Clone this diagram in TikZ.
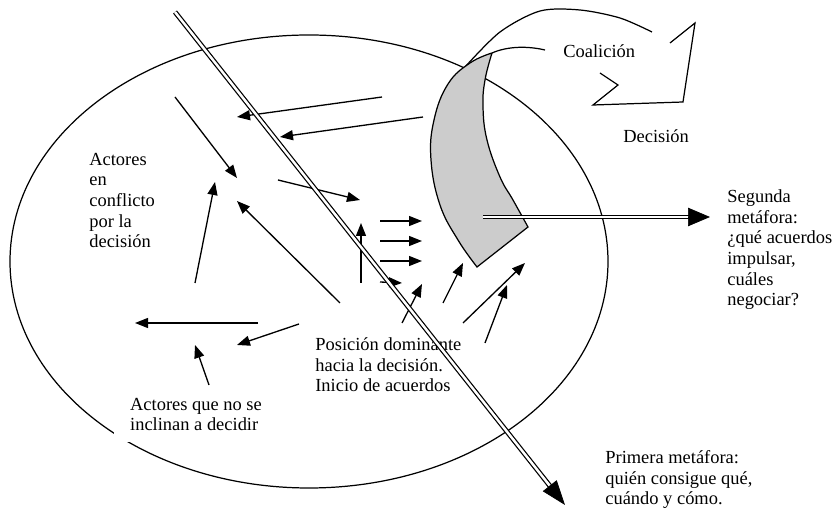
\documentclass[tikz,border=0pt]{standalone}
\usepackage{fontspec}
\setmainfont{Liberation Serif}
\usetikzlibrary{arrows.meta,calc}
\begin{document}
\begin{tikzpicture}[x=0.02cm,y=-0.02cm,
	txt/.style={align=left,inner sep=0pt,anchor=base west,font=\fontsize{10.5}{11.8}\selectfont},
	arr/.style={line width=0.75pt,-{Triangle[length=7.4pt,width=5.7pt]}},
	dbl/.style={double,line width=0.7pt,double distance=1.4pt},
	bighead/.style={line width=0.4pt,-{Triangle[length=14pt,width=10pt]}},
	midhead/.style={line width=0.4pt,-{Triangle[length=12.5pt,width=10.5pt]}}]
	\useasboundingbox (0,0) rectangle (833,509);
	\draw[line width=0.7pt] (309,261.5) ellipse [x radius=299, y radius=226.5];
	\node[txt] (conflicto) at (89,248) {Actores\\en\\conflicto\\por la\\decisión};
	\node[txt] (coalicion) at (563,58) {Coalición};
	\node[txt] (decision) at (623,143) {Decisión};
	\node[txt] (segunda) at (727,306) {Segunda\\metáfora:\\¿qué acuerdos\\impulsar,\\cuáles\\negociar?};
	\node[txt] (posicion) at (315,392) {Posición dominante\\hacia la decisión.\\Inicio de acuerdos};
	\node[txt,fill=white,inner xsep=9pt,inner ysep=6pt] (noinclinan) at (114,431) {Actores que no se\\inclinan a decidir};
	\node[txt] (primera) at (605,505) {Primera metáfora:\\quién consigue qué,\\cuándo y cómo.};
	\draw[line width=0.7pt] plot[smooth] coordinates {(465,67) (500,32) (540,11) (580,10) (620,18) (652,32)};
	\draw[line width=0.7pt] (670,43) -- (695,23) -- (683,102) -- (593,105) -- (618,85) -- (600,73);
	\draw[line width=0.7pt] (492,53) .. controls (508,46) and (528,46) .. (545,50);
	\filldraw[fill=black!20,line width=0.7pt] plot[smooth,tension=0.7] coordinates {(492,53) (470,63) (448,84) (434,120) (431,160) (440,205) (458,240) (477,267)}
		-- (528,227) -- plot[smooth,tension=0.7] coordinates {(528,227) (513,200) (500,177) (487,140) (483,107) (485,80) (492,53)} -- cycle;
	\foreach \i/\p/\q in {1/{382,97}/{237,117}, 2/{423,117}/{280,137}, 3/{175,97}/{237,178},
		4/{278,180}/{360,200}, 5/{195,283}/{215,182}, 6/{340,303}/{237,201}, 7/{361,283}/{361,223},
		8/{380,221}/{422,221}, 9/{380,241}/{422,241}, 10/{380,261}/{422,261}, 11/{380,282}/{402,283},
		12/{402,323}/{422,284}, 13/{443,303}/{463,263}, 14/{463,323}/{525,263}, 15/{485,343}/{507,285},
		16/{258,323}/{135,323}, 17/{299,324}/{237,345}, 18/{209,385}/{195,345}}
	{
		\coordinate (s\i) at (\p);
		\coordinate (e\i) at (\q);
		\draw[arr] (s\i) -- (e\i);
	}
	\coordinate (m1) at (175,12);
	\coordinate (m2) at (565,505);
	\draw[dbl] (m1) -- ($(m2)!13pt!(m1)$);
	\draw[bighead] ($(m2)!14pt!(m1)$) -- (m2);
	\coordinate (n1) at (483,217);
	\coordinate (n2) at (710,217);
	\draw[dbl] (n1) -- ($(n2)!11.5pt!(n1)$);
	\draw[midhead] ($(n2)!12.5pt!(n1)$) -- (n2);
\end{tikzpicture}
\end{document}
